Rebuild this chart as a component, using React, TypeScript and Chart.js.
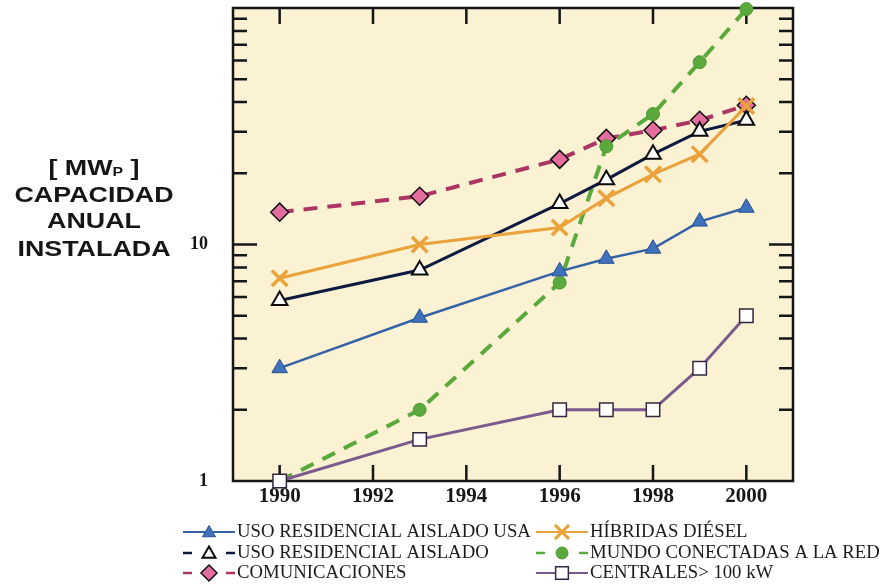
import React, { useEffect, useRef } from 'react';
import { Chart, registerables } from 'chart.js';

Chart.register(...registerables);

// ---- data ----
const years = [1990, 1993, 1996, 1997, 1998, 1999, 2000];
const usoResidencialUSA = [3.0, 4.9, 7.7, 8.7, 9.6, 12.5, 14.3];
const usoResidencialAislado = [5.8, 7.8, 14.9, 18.8, 24.1, 30.1, 33.5];
const comunicaciones = [13.7, 16.0, 22.9, 28.1, 30.4, 33.5, 38.8];
const hibridasDiesel = [7.2, 10.0, 11.8, 15.7, 19.8, 24.1, 38.5];
const mundoConectadas = [1.0, 2.0, 6.9, 26.0, 35.6, 59, 99];
const centrales = [1.0, 1.5, 2.0, 2.0, 2.0, 3.0, 5.0];

const xTickYears = [1990, 1992, 1994, 1996, 1998, 2000];
const yLabelValues = [1, 10];
const yMinorMultipliers = [2, 3, 4, 5, 6, 7, 8, 9];
const yDecades = [1, 10];

const labels = [
  'USO RESIDENCIAL AISLADO USA',
  'USO RESIDENCIAL AISLADO',
  'COMUNICACIONES',
  'HÍBRIDAS DIÉSEL',
  'MUNDO CONECTADAS A LA RED',
  'CENTRALES> 100 kW',
];
const yTitleLines = ['CAPACIDAD', 'ANUAL', 'INSTALADA'];

const BG = '#FBF1D3';
const INK = '#161616';

type Marker = 'triangle' | 'diamond' | 'cross' | 'circle' | 'square';

interface Series {
  label: string;
  values: number[];
  line: string;
  width: number;
  dash: number[];
  marker: Marker;
  mFill: string;
  mStroke: string;
  mWidth: number;
  radius: number;
  order: number;
  legendDashed: boolean;
}

const series: Series[] = [
  { label: labels[0], values: usoResidencialUSA, line: '#3662a8', width: 2.5, dash: [], marker: 'triangle', mFill: '#3f72bd', mStroke: '#2a4f8f', mWidth: 1, radius: 9, order: 3, legendDashed: false },
  { label: labels[1], values: usoResidencialAislado, line: '#0e1a42', width: 3, dash: [], marker: 'triangle', mFill: '#ffffff', mStroke: '#0a0a0a', mWidth: 2, radius: 9, order: 4, legendDashed: true },
  { label: labels[2], values: comunicaciones, line: '#ad3562', width: 4, dash: [14, 10], marker: 'diamond', mFill: '#e56c9e', mStroke: '#111111', mWidth: 1.5, radius: 9, order: 6, legendDashed: true },
  { label: labels[3], values: hibridasDiesel, line: '#eaa23a', width: 3, dash: [], marker: 'cross', mFill: '#eaa23a', mStroke: '#eaa23a', mWidth: 3.5, radius: 11, order: 1, legendDashed: false },
  { label: labels[4], values: mundoConectadas, line: '#5aa93c', width: 4, dash: [14, 10], marker: 'circle', mFill: '#5aa93c', mStroke: '#4f9a34', mWidth: 1, radius: 6.5, order: 5, legendDashed: true },
  { label: labels[5], values: centrales, line: '#7b5a8e', width: 3, dash: [], marker: 'square', mFill: '#ffffff', mStroke: '#33263f', mWidth: 1.5, radius: 9.5, order: 0, legendDashed: false },
];

const chartPointStyle: Record<Marker, string> = {
  triangle: 'triangle',
  diamond: 'rectRot',
  cross: 'crossRot',
  circle: 'circle',
  square: 'rect',
};

function drawMarker(ctx: CanvasRenderingContext2D, s: Series, x: number, y: number, r: number) {
  ctx.save();
  ctx.setLineDash([]);
  ctx.fillStyle = s.mFill;
  ctx.strokeStyle = s.mStroke;
  ctx.lineWidth = s.marker === 'cross' ? 3 : s.mWidth;
  ctx.beginPath();
  if (s.marker === 'triangle') {
    ctx.moveTo(x, y - r);
    ctx.lineTo(x + r * 0.866, y + r * 0.5);
    ctx.lineTo(x - r * 0.866, y + r * 0.5);
    ctx.closePath();
    ctx.fill();
    ctx.stroke();
  } else if (s.marker === 'diamond') {
    ctx.moveTo(x, y - r);
    ctx.lineTo(x + r, y);
    ctx.lineTo(x, y + r);
    ctx.lineTo(x - r, y);
    ctx.closePath();
    ctx.fill();
    ctx.stroke();
  } else if (s.marker === 'cross') {
    const d = r * 0.707;
    ctx.moveTo(x - d, y - d);
    ctx.lineTo(x + d, y + d);
    ctx.moveTo(x + d, y - d);
    ctx.lineTo(x - d, y + d);
    ctx.stroke();
  } else if (s.marker === 'circle') {
    ctx.arc(x, y, r, 0, Math.PI * 2);
    ctx.fill();
    ctx.stroke();
  } else {
    const h = r * 0.707;
    ctx.rect(x - h, y - h, 2 * h, 2 * h);
    ctx.fill();
    ctx.stroke();
  }
  ctx.restore();
}

function stretched(ctx: CanvasRenderingContext2D, text: string, cx: number, cy: number, sx: number, align: CanvasTextAlign) {
  ctx.save();
  ctx.translate(cx, cy);
  ctx.scale(sx, 1);
  ctx.textAlign = align;
  ctx.textBaseline = 'middle';
  ctx.fillText(text, 0, 0);
  ctx.restore();
}

const decorPlugin = {
  id: 'decor',
  beforeDraw(chart: any) {
    const { ctx, chartArea: a } = chart;
    ctx.save();
    ctx.fillStyle = BG;
    ctx.fillRect(a.left, a.top, a.right - a.left, a.bottom - a.top);
    ctx.restore();
  },
  beforeDatasetsDraw(chart: any) {
    const { ctx, chartArea: a } = chart;
    const xs = chart.scales.x;
    const ys = chart.scales.y;
    ctx.save();
    ctx.strokeStyle = INK;
    ctx.lineWidth = 2.5;
    ctx.setLineDash([]);
    ctx.strokeRect(a.left, a.top, a.right - a.left, a.bottom - a.top);
    ctx.beginPath();
    for (const v of xTickYears) {
      const px = xs.getPixelForValue(v);
      ctx.moveTo(px, a.bottom);
      ctx.lineTo(px, a.bottom - 16);
      ctx.moveTo(px, a.top);
      ctx.lineTo(px, a.top + 16);
    }
    for (const d of yDecades) {
      for (const m of yMinorMultipliers) {
        const py = ys.getPixelForValue(d * m);
        ctx.moveTo(a.left, py);
        ctx.lineTo(a.left + 14, py);
        ctx.moveTo(a.right, py);
        ctx.lineTo(a.right - 14, py);
      }
    }
    const p10 = ys.getPixelForValue(10);
    ctx.moveTo(a.left, p10);
    ctx.lineTo(a.left + 24, p10);
    ctx.moveTo(a.right, p10);
    ctx.lineTo(a.right - 24, p10);
    ctx.stroke();
    ctx.restore();
  },
  afterDraw(chart: any) {
    const { ctx } = chart;
    ctx.save();
    ctx.fillStyle = INK;
    const sx = 1.22;
    const cx = 94;
    ctx.font = 'bold 22px "Liberation Sans", Arial, sans-serif';
    const a1 = '[ MW';
    const a3 = ' ]';
    const w1 = ctx.measureText(a1).width;
    const w3 = ctx.measureText(a3).width;
    ctx.font = 'bold 13px "Liberation Sans", Arial, sans-serif';
    const w2 = ctx.measureText('P').width;
    const total = (w1 + w2 + w3) * sx;
    const x0 = cx - total / 2;
    const yT = 169;
    ctx.font = 'bold 22px "Liberation Sans", Arial, sans-serif';
    stretched(ctx, a1, x0, yT, sx, 'left');
    ctx.font = 'bold 13px "Liberation Sans", Arial, sans-serif';
    stretched(ctx, 'P', x0 + w1 * sx, yT + 3, sx, 'left');
    ctx.font = 'bold 22px "Liberation Sans", Arial, sans-serif';
    stretched(ctx, a3, x0 + (w1 + w2) * sx, yT, sx, 'left');
    const lineYs = [196, 222, 250];
    yTitleLines.forEach((t, i) => stretched(ctx, t, cx, lineYs[i], sx, 'center'));

    const colX = [183, 536];
    const rowY = [532, 553, 573];
    series.forEach((s, i) => {
      const col = i < 3 ? 0 : 1;
      const row = i % 3;
      const lx = colX[col];
      const ly = rowY[row];
      ctx.save();
      ctx.strokeStyle = s.line;
      ctx.lineWidth = s.legendDashed ? 2.5 : 2;
      ctx.beginPath();
      if (s.legendDashed) {
        ctx.moveTo(lx, ly);
        ctx.lineTo(lx + 9, ly);
        ctx.moveTo(lx + 43, ly);
        ctx.lineTo(lx + 52, ly);
      } else {
        ctx.moveTo(lx, ly);
        ctx.lineTo(lx + 52, ly);
      }
      ctx.stroke();
      ctx.restore();
      const mr = s.marker === 'cross' ? 10 : s.marker === 'circle' ? 6 : s.marker === 'square' ? 9 : s.marker === 'diamond' ? 8 : 7.5;
      drawMarker(ctx, s, lx + 26, ly + (s.marker === 'triangle' ? 1 : 0), mr);
      ctx.fillStyle = '#1b1b1b';
      ctx.font = '18px "Liberation Serif", "Times New Roman", serif';
      stretched(ctx, s.label, lx + 54, ly, 1.04, 'left');
    });
    ctx.restore();
  },
};

export default function App() {
  const canvasRef = useRef<HTMLCanvasElement | null>(null);

  useEffect(() => {
    if (!canvasRef.current) return;
    const datasets = series.map((s) => ({
      label: s.label,
      data: years.map((yr, i) => ({ x: yr, y: s.values[i] })),
      borderColor: s.line,
      borderWidth: s.width,
      borderDash: s.dash,
      backgroundColor: s.mFill,
      pointStyle: chartPointStyle[s.marker],
      pointRadius: s.radius,
      pointBackgroundColor: s.mFill,
      pointBorderColor: s.mStroke,
      pointBorderWidth: s.mWidth,
      tension: 0,
      fill: false,
      clip: false as any,
      order: s.order,
    }));

    const chart = new Chart(canvasRef.current, {
      type: 'line',
      data: { datasets },
      plugins: [decorPlugin],
      options: {
        responsive: false,
        animation: false,
        layout: { autoPadding: false, padding: { left: 0, right: 93, top: 8, bottom: 0 } },
        plugins: { legend: { display: false }, title: { display: false }, tooltip: { enabled: false } },
        scales: {
          x: {
            type: 'linear',
            min: 1989,
            max: 2001,
            afterBuildTicks: (s: any) => {
              s.ticks = xTickYears.map((v) => ({ value: v }));
            },
            afterFit: (s: any) => {
              s.height = 105;
              s.paddingLeft = 0;
              s.paddingRight = 0;
              s.paddingTop = 0;
              s.paddingBottom = 0;
            },
            grid: { display: false, drawTicks: false },
            border: { display: false },
            ticks: {
              autoSkip: false,
              maxRotation: 0,
              padding: 3,
              color: INK,
              font: { family: '"Liberation Serif", "Times New Roman", serif', size: 21, weight: 'bold' },
              callback: (v: any) => String(v),
            },
          },
          y: {
            type: 'logarithmic',
            min: 1,
            max: 100,
            afterBuildTicks: (s: any) => {
              s.ticks = yLabelValues.map((v) => ({ value: v }));
            },
            afterFit: (s: any) => {
              s.width = 233;
              s.paddingTop = 0;
              s.paddingBottom = 0;
              s.paddingLeft = 0;
              s.paddingRight = 0;
            },
            grid: { display: false, drawTicks: false },
            border: { display: false },
            ticks: {
              autoSkip: false,
              padding: 25,
              color: INK,
              font: { family: '"Liberation Serif", "Times New Roman", serif', size: 18, weight: 'bold' },
              callback: (v: any) => String(v),
            },
          },
        },
      } as any,
    });
    return () => chart.destroy();
  }, []);

  return (
    <div style={{ position: 'fixed', left: 0, top: 0, width: 886, height: 586, background: '#ffffff' }}>
      <canvas ref={canvasRef} width={886} height={586} style={{ display: 'block' }} />
    </div>
  );
}
